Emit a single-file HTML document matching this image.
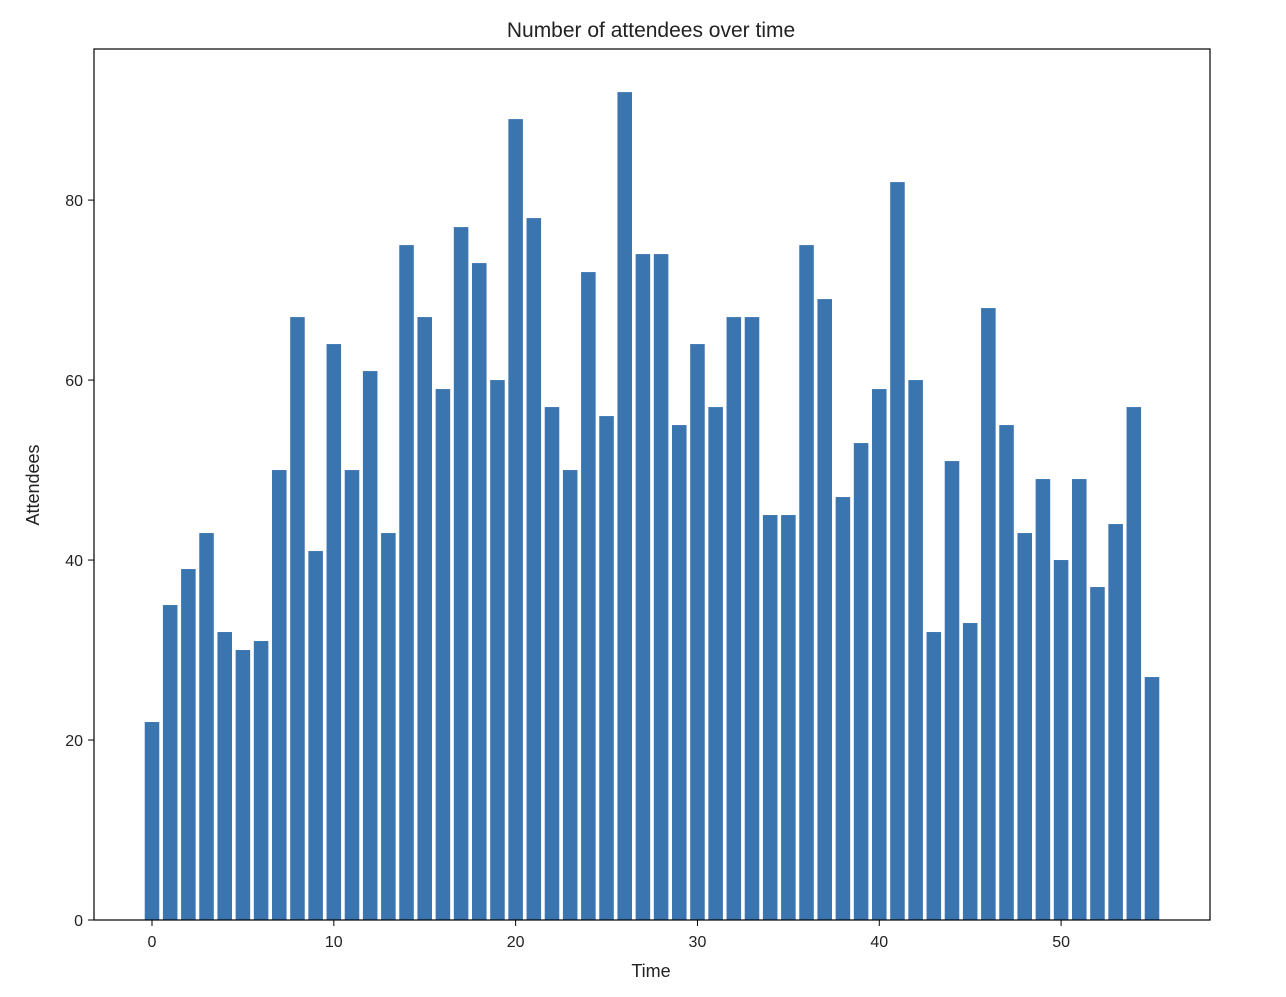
<!DOCTYPE html>
<html><head><meta charset="utf-8">
<style>
body{margin:0;background:#fff;}
svg text{font-family:"Liberation Sans","DejaVu Sans",sans-serif;fill:#222;}
</style></head>
<body>
<svg id="chart" width="1286" height="992" xmlns="http://www.w3.org/2000/svg">
<rect width="1286" height="992" fill="#fff"/>
<text x="651" y="37" font-size="21" text-anchor="middle">Number of attendees over time</text>
<g id="bars"></g>
<g id="axes"></g>
<rect x="94" y="49" width="1116" height="871" fill="none" stroke="#000" stroke-width="1.2"/>
<text x="651" y="977" font-size="18" text-anchor="middle">Time</text>
<text x="39" y="485" font-size="18" text-anchor="middle" transform="rotate(-90 39 485)">Attendees</text>
</svg>
<script>
const values=[22,35,39,43,32,30,31,50,67,41,64,50,61,43,75,67,59,77,73,60,89,78,57,50,72,56,92,74,74,55,64,57,67,67,45,45,75,69,47,53,59,82,60,32,51,33,68,55,43,49,40,49,37,44,57,27];
const xTicks=[0,10,20,30,40,50];
const yTicks=[0,20,40,60,80];
const NS="http://www.w3.org/2000/svg";
const xMin=-3.19,xMax=58.19,pl=94,pr=1210,pt=49,pb=920,yMax=96.79;
function xs(v){return pl+(v-xMin)/(xMax-xMin)*(pr-pl);}
function ys(v){return pb-v/yMax*(pb-pt);}
const bars=document.getElementById('bars');
values.forEach((v,i)=>{
  const r=document.createElementNS(NS,'rect');
  const x0=xs(i-0.4),x1=xs(i+0.4);
  r.setAttribute('x',x0);r.setAttribute('width',x1-x0);
  r.setAttribute('y',ys(v));r.setAttribute('height',ys(0)-ys(v));
  r.setAttribute('fill','#3b75af');
  
  
  bars.appendChild(r);
});
const axes=document.getElementById('axes');
xTicks.forEach(t=>{
  const l=document.createElementNS(NS,'line');
  l.setAttribute('x1',xs(t));l.setAttribute('x2',xs(t));l.setAttribute('y1',pb);l.setAttribute('y2',pb+6);
  l.setAttribute('stroke','#000');
  
  
  axes.appendChild(l);
  const tx=document.createElementNS(NS,'text');
  tx.setAttribute('x',xs(t));tx.setAttribute('y',pb+27);tx.setAttribute('font-size','16');tx.setAttribute('text-anchor','middle');
  tx.textContent=t;
  
  
  axes.appendChild(tx);
});
yTicks.forEach(t=>{
  const l=document.createElementNS(NS,'line');
  l.setAttribute('x1',pl-6);l.setAttribute('x2',pl);l.setAttribute('y1',ys(t));l.setAttribute('y2',ys(t));
  l.setAttribute('stroke','#000');
  
  
  axes.appendChild(l);
  const tx=document.createElementNS(NS,'text');
  tx.setAttribute('x',pl-11);tx.setAttribute('y',ys(t)+6);tx.setAttribute('font-size','16');tx.setAttribute('text-anchor','end');
  tx.textContent=t;
  
  
  axes.appendChild(tx);
});
</script>
</body></html>
